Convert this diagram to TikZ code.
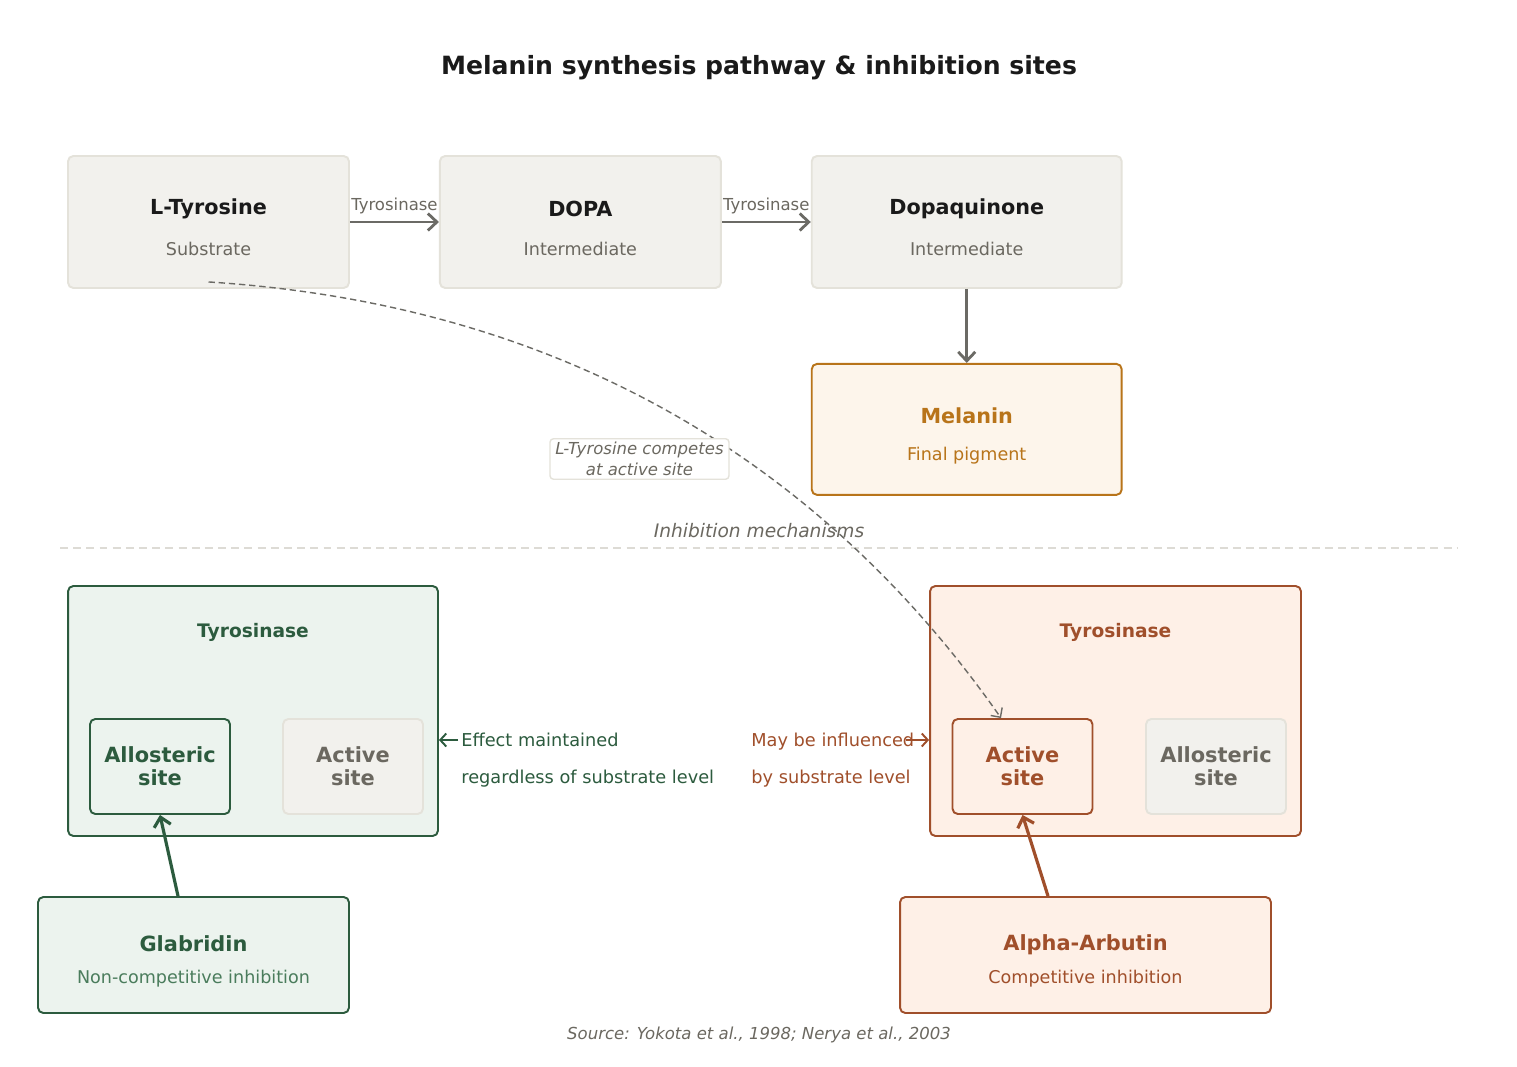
\documentclass[tikz,border=0pt]{standalone}
\usepackage{fontspec}
\setmainfont{DejaVu Sans}
\usetikzlibrary{positioning,arrows.meta}
\definecolor{InkDark}{RGB}{26,26,26}
\definecolor{InkGray}{RGB}{107,104,96}
\definecolor{StepFill}{RGB}{242,241,237}
\definecolor{StepLine}{RGB}{228,226,218}
\definecolor{ArrowGray}{RGB}{107,106,101}
\definecolor{PigmentOrange}{RGB}{184,116,26}
\definecolor{PigmentFill}{RGB}{253,245,235}
\definecolor{NonCompGreen}{RGB}{44,91,62}
\definecolor{NonCompSoft}{RGB}{74,124,92}
\definecolor{NonCompFill}{RGB}{236,243,238}
\definecolor{CompBrown}{RGB}{160,79,43}
\definecolor{CompFill}{RGB}{254,240,231}
\definecolor{RuleGray}{RGB}{221,219,213}
\tikzset{
  flow/.style={-{Straight Barb[length=1.8mm,width=3.4mm]},line width=1.6pt,draw=ArrowGray},
  competeflow/.style={-{Straight Barb[length=1.4mm,width=2.8mm]},line width=0.8pt,draw=ArrowGray,
    dash pattern=on 3.6pt off 2.2pt},
  greenflow/.style={-{Straight Barb[length=1.8mm,width=3.4mm]},line width=1.8pt,draw=NonCompGreen},
  brownflow/.style={-{Straight Barb[length=1.8mm,width=3.4mm]},line width=1.8pt,draw=CompBrown},
  greennote/.style={-{Straight Barb[length=1.2mm,width=2.6mm]},line width=1.1pt,draw=NonCompGreen},
  brownnote/.style={-{Straight Barb[length=1.2mm,width=2.6mm]},line width=1.1pt,draw=CompBrown},
  box/.style={draw=StepLine,fill=StepFill,line width=1.1pt,rounded corners=3pt,
    minimum width=5.62cm,minimum height=2.64cm},
  pigmentbox/.style={draw=PigmentOrange,fill=PigmentFill,line width=1.1pt,rounded corners=3pt,
    minimum width=6.2cm,minimum height=2.62cm},
  greenbox/.style={draw=NonCompGreen,fill=NonCompFill,line width=1.1pt,rounded corners=3pt},
  brownbox/.style={draw=CompBrown,fill=CompFill,line width=1.1pt,rounded corners=3pt},
  sitebox/.style={line width=1.1pt,rounded corners=3pt,minimum width=2.8cm,minimum height=1.9cm,
    align=center,font=\bfseries\fontsize{11.9}{13}\selectfont},
  headtext/.style={inner sep=0pt,font=\bfseries\fontsize{11.8}{13}\selectfont,text=InkDark},
  subtext/.style={inner sep=0pt,font=\fontsize{10}{12}\selectfont,text=InkGray},
  enzlabel/.style={inner sep=0pt,font=\bfseries\fontsize{10.6}{12}\selectfont},
  notetext/.style={inner sep=0pt,anchor=base west,font=\fontsize{10.1}{12}\selectfont}
}
\begin{document}
\begin{tikzpicture}[x=0.02cm,y=-0.02cm]
  \useasboundingbox[fill=white] (0,0) rectangle (1517,1067);
  \node[inner sep=0pt,font=\bfseries\fontsize{14.3}{17}\selectfont,text=InkDark] (title) at (759,68)
    {Melanin synthesis pathway \& inhibition sites};

  % pathway
  \node[box] (ltyr) at (208.5,222) {};
  \node[box,right=1.78cm of ltyr] (dopa) {};
  \node[box,right=1.78cm of dopa,minimum width=6.2cm] (dopaq) {};
  \node[pigmentbox,below=1.48cm of dopaq] (melanin) {};
  \node[headtext] (ltyrhead) at ([yshift=0.26cm]ltyr.center) {L-Tyrosine};
  \node[subtext] (ltyrsub) at ([yshift=-0.54cm]ltyr.center) {Substrate};
  \node[headtext] (dopahead) at ([yshift=0.26cm]dopa.center) {DOPA};
  \node[subtext] (dopasub) at ([yshift=-0.54cm]dopa.center) {Intermediate};
  \node[headtext] (dopaqhead) at ([yshift=0.26cm]dopaq.center) {Dopaquinone};
  \node[subtext] (dopaqsub) at ([yshift=-0.54cm]dopaq.center) {Intermediate};
  \node[headtext,text=PigmentOrange] (melhead) at ([yshift=0.27cm]melanin.center) {Melanin};
  \node[subtext,text=PigmentOrange] (melsub) at ([yshift=-0.53cm]melanin.center) {Final pigment};
  \draw[flow] (ltyr) -- node[above=4pt,inner sep=0pt,font=\fontsize{9.4}{11}\selectfont,text=InkGray] {Tyrosinase} (dopa);
  \draw[flow] (dopa) -- node[above=4pt,inner sep=0pt,font=\fontsize{9.4}{11}\selectfont,text=InkGray] {Tyrosinase} (dopaq);
  \draw[flow] (dopaq) -- (melanin);

  % divider
  \draw[RuleGray,line width=0.9pt,dash pattern=on 4.5pt off 3pt] (60,548) -- (1458,548);
  \node[inner sep=0pt,font=\itshape\fontsize{10.6}{12}\selectfont,text=InkGray] (mechs) at (759,531) {Inhibition mechanisms};

  % non-competitive side
  \node[greenbox,minimum width=7.4cm,minimum height=5cm] (enzG) at (253,711) {};
  \node[enzlabel,text=NonCompGreen] (enzGlabel) at (253,632) {Tyrosinase};
  \node[sitebox,draw=NonCompGreen,fill=NonCompFill,text=NonCompGreen] (alloG) at (160,766.5) {Allosteric\\site};
  \node[sitebox,draw=StepLine,fill=StepFill,text=InkGray] (actG) at (353,766.5) {Active\\site};
  \node[greenbox,minimum width=6.22cm,minimum height=2.32cm] (glab) at (193.5,955) {};
  \node[headtext,text=NonCompGreen,font=\bfseries\fontsize{11.9}{13}\selectfont] (glabhead) at ([yshift=0.22cm]glab.center) {Glabridin};
  \node[subtext,text=NonCompSoft] (glabsub) at ([yshift=-0.48cm]glab.center) {Non-competitive inhibition};
  \draw[greenflow] ([xshift=-0.31cm]glab.north) -- (alloG.south);
  \node[notetext,text=NonCompGreen] (effA) at (461,746) {Effect maintained};
  \node[notetext,text=NonCompGreen] (effB) at (461,783) {regardless of substrate level};
  \draw[greennote] ([xshift=-0.06cm,yshift=0.12cm]effA.base west) -- ([yshift=0.12cm]effA.base west -| enzG.east);

  % competitive side
  \node[brownbox,minimum width=7.42cm,minimum height=5cm] (enzO) at (1115.5,711) {};
  \node[enzlabel,text=CompBrown] (enzOlabel) at (1115.5,632) {Tyrosinase};
  \node[sitebox,draw=CompBrown,fill=CompFill,text=CompBrown] (actO) at (1022.5,766.5) {Active\\site};
  \node[sitebox,draw=StepLine,fill=StepFill,text=InkGray] (alloO) at (1216,766.5) {Allosteric\\site};
  \node[brownbox,minimum width=7.42cm,minimum height=2.32cm] (arbutin) at (1085.5,955) {};
  \node[headtext,text=CompBrown,font=\bfseries\fontsize{11.9}{13}\selectfont] (arbhead) at ([yshift=0.20cm]arbutin.center) {Alpha-Arbutin};
  \node[subtext,text=CompBrown] (arbsub) at ([yshift=-0.48cm]arbutin.center) {Competitive inhibition};
  \draw[brownflow] ([xshift=-0.75cm]arbutin.north) -- (actO.south);
  \node[notetext,text=CompBrown] (mayA) at (751,746) {May be influenced};
  \node[notetext,text=CompBrown] (mayB) at (751,783) {by substrate level};
  \draw[brownnote] ([xshift=-0.18cm,yshift=0.12cm]mayA.base east) -- ([yshift=0.12cm]mayA.base east -| enzO.west);

  % substrate competition
  \draw[competeflow] ([yshift=0.14cm]ltyr.south) .. controls (540,303) and (810,445) .. ([xshift=-0.43cm]actO.north);
  \node[draw=StepLine,fill=white,line width=0.8pt,rounded corners=2pt,align=center,inner sep=2pt,
    font=\itshape\fontsize{9.4}{11.8}\selectfont,text=InkGray,minimum width=3.58cm] (competenote) at (639.5,459)
    {L-Tyrosine competes\\at active site};

  \node[inner sep=0pt,font=\itshape\fontsize{9.4}{11}\selectfont,text=InkGray] (source) at (759,1035)
    {Source: Yokota et al., 1998; Nerya et al., 2003};
\end{tikzpicture}
\end{document}
